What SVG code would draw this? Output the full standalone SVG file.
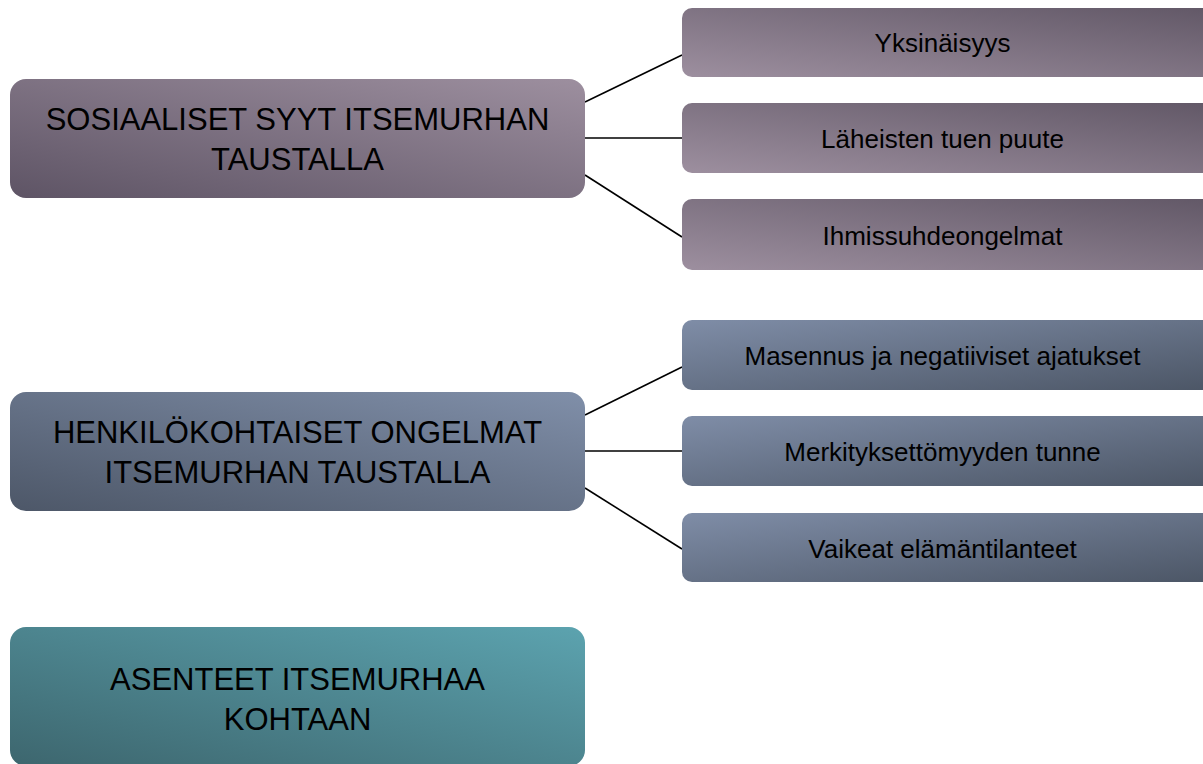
<svg xmlns="http://www.w3.org/2000/svg" width="1203" height="764" viewBox="0 0 1203 764">
<defs>
<linearGradient id="gMain1" x1="1" y1="0" x2="0" y2="1">
<stop offset="0" stop-color="#9d8f9f"/>
<stop offset="1" stop-color="#5e5465"/>
</linearGradient>
<linearGradient id="gSub1" x1="1" y1="0" x2="0" y2="1">
<stop offset="0" stop-color="#625867"/>
<stop offset="1" stop-color="#9d8f9f"/>
</linearGradient>
<linearGradient id="gMain2" x1="1" y1="0" x2="0" y2="1">
<stop offset="0" stop-color="#808fa9"/>
<stop offset="1" stop-color="#4d5768"/>
</linearGradient>
<linearGradient id="gSub2" x1="0" y1="0" x2="1" y2="1">
<stop offset="0" stop-color="#7f8da7"/>
<stop offset="1" stop-color="#4c5666"/>
</linearGradient>
<linearGradient id="gMain3" x1="1" y1="0" x2="0" y2="1">
<stop offset="0" stop-color="#5ca3af"/>
<stop offset="1" stop-color="#3d666e"/>
</linearGradient>
</defs>
<style>
.main{font-family:"Liberation Sans",Arial,sans-serif;font-size:31px;fill:#000;text-anchor:middle}
.sub{font-family:"Liberation Sans",Arial,sans-serif;font-size:26px;fill:#000;text-anchor:middle}
.conn line{stroke:#000;stroke-width:1.6}
</style>
<g id="connectors" class="conn">
<line x1="585" y1="102" x2="682" y2="55"/>
<line x1="585" y1="138" x2="682" y2="138"/>
<line x1="585" y1="175" x2="682" y2="237"/>
<line x1="585" y1="415" x2="682" y2="367"/>
<line x1="585" y1="451" x2="682" y2="451"/>
<line x1="585" y1="488" x2="682" y2="549"/>
</g>
<g id="n-sosiaaliset">
<rect x="10" y="79" width="575" height="119" rx="16" fill="url(#gMain1)"/>
<text class="main" x="297.5" y="130">SOSIAALISET SYYT ITSEMURHAN</text>
<text class="main" x="297.5" y="170">TAUSTALLA</text>
</g>
<g id="n-yksinaisyys">
<rect x="682" y="8" width="530" height="69" rx="10" fill="url(#gSub1)"/>
<text class="sub" x="942.5" y="52">Yksinäisyys</text>
</g>
<g id="n-laheisten">
<rect x="682" y="103" width="530" height="70" rx="10" fill="url(#gSub1)"/>
<text class="sub" x="942.5" y="148">Läheisten tuen puute</text>
</g>
<g id="n-ihmissuhde">
<rect x="682" y="199" width="530" height="71" rx="10" fill="url(#gSub1)"/>
<text class="sub" x="942.5" y="245">Ihmissuhdeongelmat</text>
</g>
<g id="n-henkilokohtaiset">
<rect x="10" y="392" width="575" height="119" rx="16" fill="url(#gMain2)"/>
<text class="main" x="297.5" y="443">HENKILÖKOHTAISET ONGELMAT</text>
<text class="main" x="297.5" y="483">ITSEMURHAN TAUSTALLA</text>
</g>
<g id="n-masennus">
<rect x="682" y="320" width="530" height="70" rx="10" fill="url(#gSub2)"/>
<text class="sub" x="942.5" y="365">Masennus ja negatiiviset ajatukset</text>
</g>
<g id="n-merkityksettomyys">
<rect x="682" y="416" width="530" height="70" rx="10" fill="url(#gSub2)"/>
<text class="sub" x="942.5" y="461">Merkityksettömyyden tunne</text>
</g>
<g id="n-vaikeat">
<rect x="682" y="513" width="530" height="69" rx="10" fill="url(#gSub2)"/>
<text class="sub" x="942.5" y="558">Vaikeat elämäntilanteet</text>
</g>
<g id="n-asenteet">
<rect x="10" y="627" width="575" height="139" rx="16" fill="url(#gMain3)"/>
<text class="main" x="297.5" y="690">ASENTEET ITSEMURHAA</text>
<text class="main" x="297.5" y="730">KOHTAAN</text>
</g>
</svg>
